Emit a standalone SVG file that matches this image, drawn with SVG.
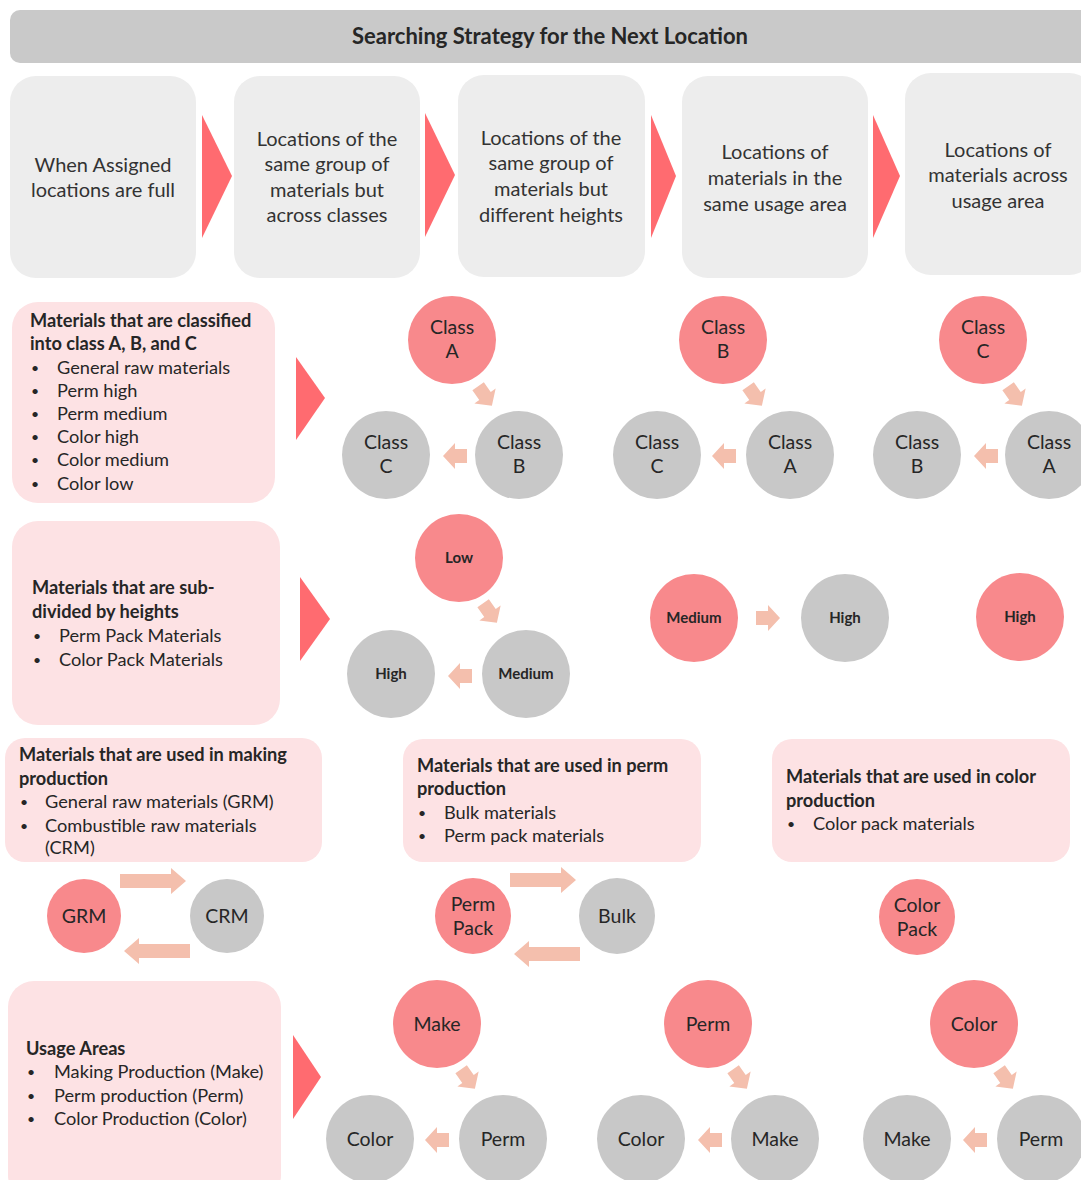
<svg xmlns="http://www.w3.org/2000/svg" xmlns:xlink="http://www.w3.org/1999/xlink" width="1081" height="1180" viewBox="0 0 1081 1180">
<style>
text{font-family:Lato,"Open Sans","Liberation Sans",sans-serif;fill:#262626}
.hdr{fill:#c9c9c9}
.step{fill:#ededed}
.pink{fill:#fde2e4}
.big{fill:#ff6b70}
.red{fill:#f8898c}
.gray{fill:#c8c8c8}
.sa{fill:#f4bfad}
.st{font-size:20px;text-anchor:middle;fill:#333}
.ht{font-size:22px;font-weight:bold;text-anchor:middle}
.bt{font-size:18.2px}
.bu{font-size:14px}
.b{font-weight:bold}
.ct{font-size:19.5px;text-anchor:middle}
.cs{font-size:15px;font-weight:bold;text-anchor:middle}
</style>
<defs>
<path id="sarr" d="M-12,-7H0V-13L12,0L0,13V7H-12Z"/>
</defs>
<g id="header">
<rect class="hdr" x="10" y="10" width="1080" height="53" rx="10"/>
<text class="ht" x="550" y="44">Searching Strategy for the Next Location</text>
</g>
<g id="step1"><rect class="step" x="10" y="76" width="186" height="202" rx="26"/>
<text class="st" x="103" y="172">When Assigned</text><text class="st" x="103" y="197">locations are full</text></g>
<g id="step2"><rect class="step" x="234" y="76" width="186" height="202" rx="26"/>
<text class="st" x="327" y="146">Locations of the</text><text class="st" x="327" y="171">same group of</text><text class="st" x="327" y="197">materials but</text><text class="st" x="327" y="222">across classes</text></g>
<g id="step3"><rect class="step" x="458" y="75" width="187" height="202" rx="26"/>
<text class="st" x="551" y="145">Locations of the</text><text class="st" x="551" y="170">same group of</text><text class="st" x="551" y="196">materials but</text><text class="st" x="551" y="222">different heights</text></g>
<g id="step4"><rect class="step" x="682" y="76" width="186" height="202" rx="26"/>
<text class="st" x="775" y="159">Locations of</text><text class="st" x="775" y="185">materials in the</text><text class="st" x="775" y="211">same usage area</text></g>
<g id="step5"><rect class="step" x="905" y="73" width="190" height="202" rx="26"/>
<text class="st" x="998" y="157">Locations of</text><text class="st" x="998" y="182">materials across</text><text class="st" x="998" y="208">usage area</text></g>

<g id="classBox"><rect class="pink" x="12" y="302" width="263" height="201" rx="26"/>
<text class="bt b" x="30" y="327">Materials that are classified</text>
<text class="bt b" x="30" y="350">into class A, B, and C</text>
<text class="bu" x="31" y="373">•</text><text class="bt" x="57" y="374">General raw materials</text>
<text class="bu" x="31" y="396">•</text><text class="bt" x="57" y="397">Perm high</text>
<text class="bu" x="31" y="419">•</text><text class="bt" x="57" y="420">Perm medium</text>
<text class="bu" x="31" y="442">•</text><text class="bt" x="57" y="443">Color high</text>
<text class="bu" x="31" y="465">•</text><text class="bt" x="57" y="466">Color medium</text>
<text class="bu" x="31" y="489">•</text><text class="bt" x="57" y="490">Color low</text></g>
<g id="heightBox"><rect class="pink" x="12" y="521" width="268" height="204" rx="26"/>
<text class="bt b" x="32" y="594">Materials that are sub-</text>
<text class="bt b" x="32" y="618">divided by heights</text>
<text class="bu" x="33" y="641">•</text><text class="bt" x="59" y="642">Perm Pack Materials</text>
<text class="bu" x="33" y="665">•</text><text class="bt" x="59" y="666">Color Pack Materials</text></g>
<g id="makeBox"><rect class="pink" x="5" y="738" width="317" height="124" rx="20"/>
<text class="bt b" x="19" y="761">Materials that are used in making</text>
<text class="bt b" x="19" y="785">production</text>
<text class="bu" x="20" y="807">•</text><text class="bt" x="45" y="808">General raw materials (GRM)</text>
<text class="bu" x="20" y="831">•</text><text class="bt" x="45" y="832">Combustible raw materials</text>
<text class="bt" x="45" y="854">(CRM)</text></g>
<g id="permBox"><rect class="pink" x="403" y="739" width="298" height="123" rx="20"/>
<text class="bt b" x="417" y="772">Materials that are used in perm</text>
<text class="bt b" x="417" y="795">production</text>
<text class="bu" x="418" y="818">•</text><text class="bt" x="444" y="819">Bulk materials</text>
<text class="bu" x="418" y="841">•</text><text class="bt" x="444" y="842">Perm pack materials</text></g>
<g id="colorBox"><rect class="pink" x="772" y="739" width="298" height="123" rx="20"/>
<text class="bt b" x="786" y="783">Materials that are used in color</text>
<text class="bt b" x="786" y="807">production</text>
<text class="bu" x="787" y="829">•</text><text class="bt" x="813" y="830">Color pack materials</text></g>
<g id="usageBox"><rect class="pink" x="8" y="981" width="273" height="220" rx="26"/>
<text class="bt b" x="26" y="1055">Usage Areas</text>
<text class="bu" x="27" y="1077">•</text><text class="bt" x="54" y="1078">Making Production (Make)</text>
<text class="bu" x="27" y="1101">•</text><text class="bt" x="54" y="1102">Perm production (Perm)</text>
<text class="bu" x="27" y="1124">•</text><text class="bt" x="54" y="1125">Color Production (Color)</text></g>

<g id="connectors">
<polygon class="big" points="202,115 232,176 202,238"/>
<polygon class="big" points="425,113 455,175 425,237"/>
<polygon class="big" points="651,115 676,176 651,238"/>
<polygon class="big" points="873,115 900,176 873,238"/>
<polygon class="big" points="296,357 325,398 296,440"/>
<polygon class="big" points="300,577 330,619 300,661"/>
<polygon class="big" points="293,1035 321,1077 293,1119"/>
<use class="sa" xlink:href="#sarr" transform="translate(485,396) rotate(55)"/>
<use class="sa" xlink:href="#sarr" transform="translate(455,456) rotate(180)"/>
<use class="sa" xlink:href="#sarr" transform="translate(755,396) rotate(55)"/>
<use class="sa" xlink:href="#sarr" transform="translate(724,456) rotate(180)"/>
<use class="sa" xlink:href="#sarr" transform="translate(1015,396) rotate(55)"/>
<use class="sa" xlink:href="#sarr" transform="translate(986,456) rotate(180)"/>
<use class="sa" xlink:href="#sarr" transform="translate(490,613) rotate(55)"/>
<use class="sa" xlink:href="#sarr" transform="translate(460,676) rotate(180)"/>
<use class="sa" xlink:href="#sarr" transform="translate(768,618)"/>
<use class="sa" xlink:href="#sarr" transform="translate(468,1079) rotate(55)"/>
<use class="sa" xlink:href="#sarr" transform="translate(437,1140) rotate(180)"/>
<use class="sa" xlink:href="#sarr" transform="translate(740,1079) rotate(55)"/>
<use class="sa" xlink:href="#sarr" transform="translate(710,1140) rotate(180)"/>
<use class="sa" xlink:href="#sarr" transform="translate(1006,1079) rotate(55)"/>
<use class="sa" xlink:href="#sarr" transform="translate(975,1140) rotate(180)"/>
<path class="sa" d="M120,874H171V868L186,881L171,894V888H120Z"/>
<path class="sa" d="M190,944H139V938L124,951L139,964V958H190Z"/>
<path class="sa" d="M510,873H561V867L576,880L561,893V887H510Z"/>
<path class="sa" d="M580,947H529V941L514,954L529,967V961H580Z"/>
</g>

<g id="c1A"><circle class="red" cx="452" cy="340" r="44"/><text class="ct" x="452" y="334">Class</text><text class="ct" x="452" y="358">A</text></g>
<g id="c1C"><circle class="gray" cx="386" cy="455" r="44"/><text class="ct" x="386" y="449">Class</text><text class="ct" x="386" y="473">C</text></g>
<g id="c1B"><circle class="gray" cx="519" cy="455" r="44"/><text class="ct" x="519" y="449">Class</text><text class="ct" x="519" y="473">B</text></g>
<g id="c2B"><circle class="red" cx="723" cy="340" r="44"/><text class="ct" x="723" y="334">Class</text><text class="ct" x="723" y="358">B</text></g>
<g id="c2C"><circle class="gray" cx="657" cy="455" r="44"/><text class="ct" x="657" y="449">Class</text><text class="ct" x="657" y="473">C</text></g>
<g id="c2A"><circle class="gray" cx="790" cy="455" r="44"/><text class="ct" x="790" y="449">Class</text><text class="ct" x="790" y="473">A</text></g>
<g id="c3C"><circle class="red" cx="983" cy="340" r="44"/><text class="ct" x="983" y="334">Class</text><text class="ct" x="983" y="358">C</text></g>
<g id="c3B"><circle class="gray" cx="917" cy="455" r="44"/><text class="ct" x="917" y="449">Class</text><text class="ct" x="917" y="473">B</text></g>
<g id="c3A"><circle class="gray" cx="1049" cy="455" r="44"/><text class="ct" x="1049" y="449">Class</text><text class="ct" x="1049" y="473">A</text></g>

<g id="h1Low"><circle class="red" cx="459" cy="558" r="44"/><text class="cs" x="459" y="563">Low</text></g>
<g id="h1High"><circle class="gray" cx="391" cy="674" r="44"/><text class="cs" x="391" y="679">High</text></g>
<g id="h1Med"><circle class="gray" cx="526" cy="674" r="44"/><text class="cs" x="526" y="679">Medium</text></g>
<g id="h2Med"><circle class="red" cx="694" cy="618" r="44"/><text class="cs" x="694" y="623">Medium</text></g>
<g id="h2High"><circle class="gray" cx="845" cy="618" r="44"/><text class="cs" x="845" y="623">High</text></g>
<g id="h3High"><circle class="red" cx="1020" cy="617" r="44"/><text class="cs" x="1020" y="622">High</text></g>

<g id="pGRM"><circle class="red" cx="84" cy="916" r="37"/><text class="ct" x="84" y="923">GRM</text></g>
<g id="pCRM"><circle class="gray" cx="227" cy="916" r="37"/><text class="ct" x="227" y="923">CRM</text></g>
<g id="pPermPack"><circle class="red" cx="473" cy="916" r="38"/><text class="ct" x="473" y="911">Perm</text><text class="ct" x="473" y="935">Pack</text></g>
<g id="pBulk"><circle class="gray" cx="617" cy="916" r="38"/><text class="ct" x="617" y="923">Bulk</text></g>
<g id="pColorPack"><circle class="red" cx="917" cy="917" r="38"/><text class="ct" x="917" y="912">Color</text><text class="ct" x="917" y="936">Pack</text></g>

<g id="u1Make"><circle class="red" cx="437" cy="1024" r="44"/><text class="ct" x="437" y="1031">Make</text></g>
<g id="u1Color"><circle class="gray" cx="370" cy="1139" r="44"/><text class="ct" x="370" y="1146">Color</text></g>
<g id="u1Perm"><circle class="gray" cx="503" cy="1139" r="44"/><text class="ct" x="503" y="1146">Perm</text></g>
<g id="u2Perm"><circle class="red" cx="708" cy="1024" r="44"/><text class="ct" x="708" y="1031">Perm</text></g>
<g id="u2Color"><circle class="gray" cx="641" cy="1139" r="44"/><text class="ct" x="641" y="1146">Color</text></g>
<g id="u2Make"><circle class="gray" cx="775" cy="1139" r="44"/><text class="ct" x="775" y="1146">Make</text></g>
<g id="u3Color"><circle class="red" cx="974" cy="1024" r="44"/><text class="ct" x="974" y="1031">Color</text></g>
<g id="u3Make"><circle class="gray" cx="907" cy="1139" r="44"/><text class="ct" x="907" y="1146">Make</text></g>
<g id="u3Perm"><circle class="gray" cx="1041" cy="1139" r="44"/><text class="ct" x="1041" y="1146">Perm</text></g>
</svg>
